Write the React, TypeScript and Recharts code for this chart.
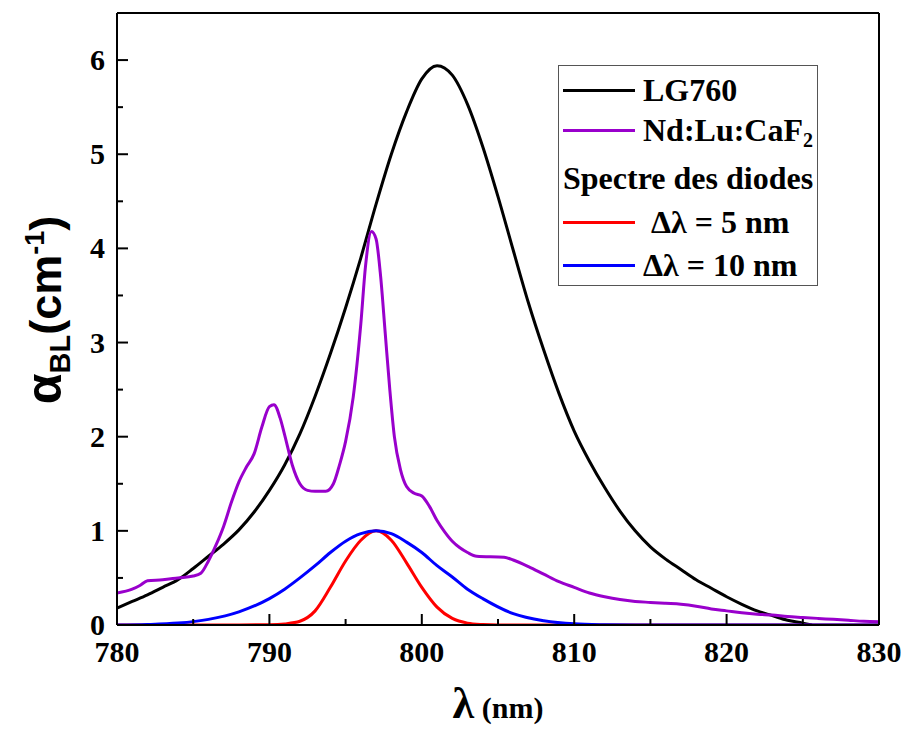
import React from "react";
import { LineChart, Line, XAxis, YAxis, Legend } from "recharts";

const SERIF = '"Liberation Serif", "Times New Roman", serif';
const SANS = '"Liberation Sans", Arial, sans-serif';

const BLACK = "#000000";
const PURPLE = "#9900CC";
const RED = "#FF0000";
const BLUE = "#0000FF";

// LG760
const lgNm = [780, 781, 782, 783, 784, 785, 786, 787, 788, 789, 790, 791, 792, 793, 794, 795, 796, 797, 798, 799, 800, 801, 802, 803, 804, 805, 806, 807, 808, 809, 810, 811, 812, 813, 814, 815, 816, 817, 818, 819, 820, 821, 822, 823, 824, 825, 825.6];
const lgVal = [0.18, 0.25, 0.32, 0.4, 0.48, 0.6, 0.73, 0.86, 1.01, 1.2, 1.43, 1.7, 2.03, 2.43, 2.88, 3.37, 3.9, 4.47, 5.0, 5.45, 5.8, 5.94, 5.84, 5.53, 5.08, 4.55, 3.98, 3.42, 2.92, 2.46, 2.06, 1.74, 1.46, 1.21, 1.0, 0.83, 0.7, 0.59, 0.48, 0.39, 0.3, 0.22, 0.15, 0.1, 0.05, 0.02, 0];

// Nd:Lu:CaF2
const ndNm = [780, 781, 781.5, 782, 783, 784, 785, 785.5, 786, 786.5, 787, 787.5, 788, 788.5, 789, 789.5, 790, 790.3, 790.7, 791, 791.5, 792, 792.5, 793, 793.7, 794.2, 794.6, 795, 795.5, 796, 796.3, 796.7, 797, 797.3, 797.6, 797.9, 798.2, 798.6, 799, 799.5, 800, 800.5, 801, 801.5, 802, 802.5, 803, 803.6, 805.4, 806, 807, 808, 809, 810, 811, 812, 813, 814, 815, 816, 817, 818, 819, 820, 821, 822, 823, 824, 825, 826, 827, 828, 829, 830];
const ndVal = [0.34, 0.38, 0.42, 0.47, 0.48, 0.5, 0.52, 0.55, 0.68, 0.85, 1.05, 1.3, 1.52, 1.68, 1.82, 2.1, 2.32, 2.34, 2.2, 2.02, 1.7, 1.5, 1.43, 1.42, 1.42, 1.5, 1.7, 1.95, 2.42, 3.2, 3.8, 4.18, 4.1, 3.7, 3.1, 2.5, 2.0, 1.65, 1.47, 1.4, 1.37, 1.26, 1.11, 0.99, 0.89, 0.82, 0.77, 0.73, 0.72, 0.69, 0.62, 0.54, 0.46, 0.4, 0.34, 0.3, 0.27, 0.25, 0.24, 0.23, 0.22, 0.2, 0.17, 0.15, 0.13, 0.115, 0.105, 0.09, 0.08, 0.07, 0.06, 0.05, 0.04, 0.035];

// diode 5 nm
const d5Nm = [780, 788, 790, 791, 792, 793, 794, 795, 796, 797, 798, 799, 800, 801, 802, 803, 804, 805, 810, 830];
const d5Val = [0, 0, 0.003, 0.012, 0.04, 0.15, 0.4, 0.68, 0.9, 1.0, 0.9, 0.66, 0.4, 0.19, 0.07, 0.02, 0.005, 0, 0, 0];

// diode 10 nm
const d10Nm = [780, 782, 784, 786, 788, 790, 791, 792, 793, 794, 795, 796, 797, 798, 799, 800, 801, 802, 803, 804, 806, 808, 810, 812, 814, 830];
const d10Val = [0, 0.005, 0.02, 0.06, 0.14, 0.28, 0.38, 0.5, 0.63, 0.77, 0.89, 0.97, 1.0, 0.97, 0.88, 0.77, 0.63, 0.51, 0.38, 0.28, 0.12, 0.045, 0.012, 0.003, 0, 0];

const xTicks = [780, 785, 790, 795, 800, 805, 810, 815, 820, 825, 830];
const yTicks = [0, 0.5, 1, 1.5, 2, 2.5, 3, 3.5, 4, 4.5, 5, 5.5, 6];

const toPts = (xs: number[], ys: number[]) => xs.map((x, i) => ({ x, y: ys[i] }));

const lgData = toPts(lgNm, lgVal);
const ndData = toPts(ndNm, ndVal);
const d5Data = toPts(d5Nm, d5Val);
const d10Data = toPts(d10Nm, d10Val);

const isMajorX = (v: number) => v % 10 === 0;
const isMajorY = (v: number) => Number.isInteger(v);

function BottomTick(props: any) {
  const { x, y, payload } = props;
  const major = isMajorX(payload.value);
  return (
    <g>
      <line x1={x} y1={y} x2={x} y2={y - (major ? 11 : 6)} stroke="#000" strokeWidth={2} />
      {major && (
        <text x={x} y={y + 37} textAnchor="middle" fontFamily={SERIF} fontWeight="bold" fontSize={30} fill="#000">
          {payload.value}
        </text>
      )}
    </g>
  );
}

function TopTick(props: any) {
  const { x, y, payload } = props;
  const major = isMajorX(payload.value);
  return <line x1={x} y1={y} x2={x} y2={y + (major ? 11 : 6)} stroke="#000" strokeWidth={2} />;
}

function LeftTick(props: any) {
  const { x, y, payload } = props;
  const major = isMajorY(payload.value);
  return (
    <g>
      <line x1={x} y1={y} x2={x + (major ? 11 : 6)} y2={y} stroke="#000" strokeWidth={2} />
      {major && (
        <text x={x - 12} y={y + 10} textAnchor="end" fontFamily={SERIF} fontWeight="bold" fontSize={30} fill="#000">
          {payload.value}
        </text>
      )}
    </g>
  );
}

function RightTick(props: any) {
  const { x, y, payload } = props;
  const major = isMajorY(payload.value);
  return <line x1={x} y1={y} x2={x - (major ? 11 : 6)} y2={y} stroke="#000" strokeWidth={2} />;
}

function YTitle() {
  return (
    <text transform="translate(61,310) rotate(-90)" textAnchor="middle" fontFamily={SANS} fontWeight="bold" fill="#000">
      <tspan fontSize={50}>α</tspan>
      <tspan fontSize={29} dy={9}>BL</tspan>
      <tspan fontSize={45} dy={-9}>(cm</tspan>
      <tspan fontSize={27} dy={-17}>-1</tspan>
      <tspan fontSize={45} dy={17}>)</tspan>
    </text>
  );
}

function XTitle() {
  return (
    <text x={498} y={718} textAnchor="middle" fontFamily={SERIF} fontWeight="bold" fill="#000">
      <tspan fontSize={44}>λ</tspan>
      <tspan fontSize={30}> (nm)</tspan>
    </text>
  );
}

const legendRows = [
  { color: BLACK, label: "LG760", top: 24, indent: 0 },
  { color: PURPLE, label: "Nd:Lu:CaF", sub: "2", top: 64, indent: 0 },
  { color: null, label: "Spectre des diodes", top: 112, indent: 0 },
  { color: RED, label: "Δλ = 5 nm", top: 156, indent: 8 },
  { color: BLUE, label: "Δλ = 10 nm", top: 199, indent: 0 },
];

function LegendBox() {
  return (
    <div
      style={{
        position: "relative",
        width: 260,
        height: 221,
        border: "1px solid #555",
        boxSizing: "border-box",
        background: "#fff",
        fontFamily: SERIF,
        fontWeight: "bold",
        fontSize: 32,
        color: "#000",
      }}
    >
      {legendRows.map((r) => (
        <div key={r.label} style={{ position: "absolute", left: 0, top: r.top - 18, height: 36, width: 258 }}>
          {r.color && (
            <div style={{ position: "absolute", left: 4, top: 17, width: 72, height: 3, background: r.color }} />
          )}
          <div
            style={{
              position: "absolute",
              left: r.color ? 84 + r.indent : 4,
              top: 0,
              lineHeight: "36px",
              whiteSpace: "nowrap",
            }}
          >
            {r.label}
            {r.sub && <sub style={{ fontSize: 20, verticalAlign: "-6px" }}>{r.sub}</sub>}
          </div>
        </div>
      ))}
    </div>
  );
}

export default function App() {
  return (
    <div style={{ position: "absolute", left: 0, top: 0, width: 905, height: 731, background: "#fff" }}>
      <LineChart width={905} height={731} margin={{ top: 12, right: 25, bottom: 0, left: 0 }}>
        <XAxis
          xAxisId="b"
          dataKey="x"
          type="number"
          domain={[780, 830]}
          ticks={xTicks}
          interval={0}
          height={106}
          tickSize={0}
          tickMargin={0}
          tickLine={false}
          axisLine={{ stroke: "#000", strokeWidth: 2 }}
          tick={<BottomTick />}
          allowDataOverflow
          label={<XTitle />}
        />
        <XAxis
          xAxisId="t"
          orientation="top"
          dataKey="x"
          type="number"
          domain={[780, 830]}
          ticks={xTicks}
          interval={0}
          height={1}
          tickSize={0}
          tickMargin={0}
          tickLine={false}
          axisLine={{ stroke: "#000", strokeWidth: 2 }}
          tick={<TopTick />}
        />
        <YAxis
          yAxisId="l"
          type="number"
          domain={[0, 6.5]}
          ticks={yTicks}
          interval={0}
          width={117}
          tickSize={0}
          tickMargin={0}
          tickLine={false}
          axisLine={{ stroke: "#000", strokeWidth: 2 }}
          tick={<LeftTick />}
          allowDataOverflow
          label={<YTitle />}
        />
        <YAxis
          yAxisId="r"
          orientation="right"
          type="number"
          domain={[0, 6.5]}
          ticks={yTicks}
          interval={0}
          width={1}
          tickSize={0}
          tickMargin={0}
          tickLine={false}
          axisLine={{ stroke: "#000", strokeWidth: 2 }}
          tick={<RightTick />}
        />
        <Legend
          layout="horizontal"
          verticalAlign="middle"
          align="center"
          content={<LegendBox />}
          wrapperStyle={{ position: "absolute", left: 558, top: 65, width: 260, height: 221 }}
        />
        <Line data={lgData} dataKey="y" xAxisId="b" yAxisId="l" type="monotone" stroke={BLACK} strokeWidth={3} dot={false} isAnimationActive={false} />
        <Line data={ndData} dataKey="y" xAxisId="b" yAxisId="l" type="monotone" stroke={PURPLE} strokeWidth={3} dot={false} isAnimationActive={false} />
        <Line data={d5Data} dataKey="y" xAxisId="b" yAxisId="l" type="monotone" stroke={RED} strokeWidth={3} dot={false} isAnimationActive={false} />
        <Line data={d10Data} dataKey="y" xAxisId="b" yAxisId="l" type="monotone" stroke={BLUE} strokeWidth={3} dot={false} isAnimationActive={false} />
      </LineChart>
    </div>
  );
}
